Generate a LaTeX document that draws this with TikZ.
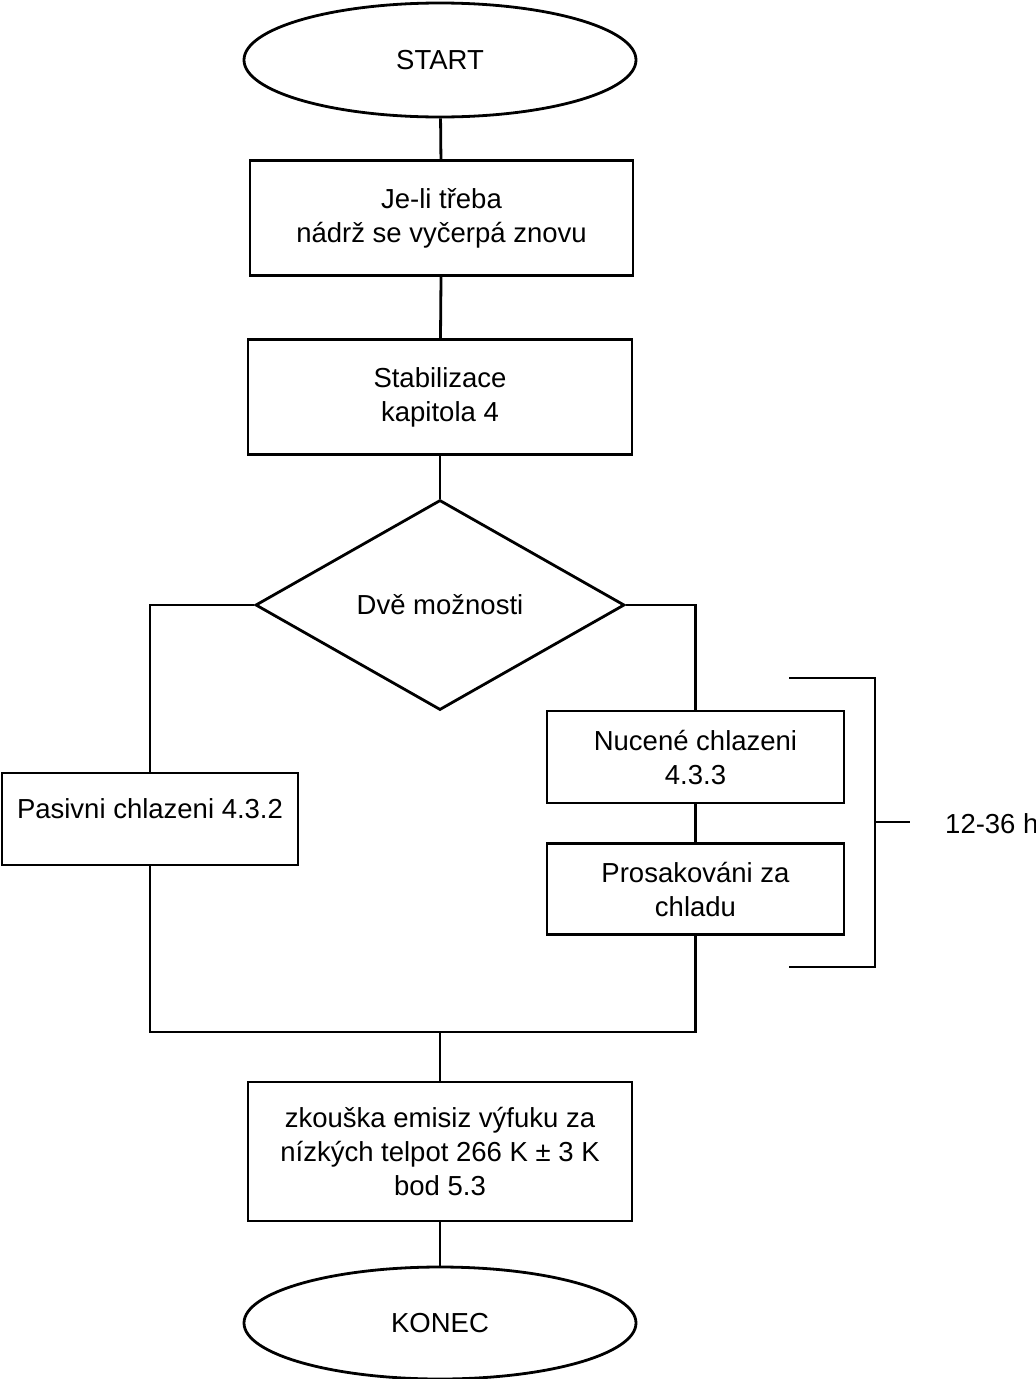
\documentclass[tikz,border=0pt]{standalone}
\usepackage{fontspec}
\setmainfont{Liberation Sans}
\usetikzlibrary{shapes.geometric}
\begin{document}
\begin{tikzpicture}[x=1pt,y=-1pt,
  every node/.style={font=\fontsize{27.5}{34}\selectfont, inner sep=0pt},
  box/.style={draw, line width=2.8pt, rectangle, align=center},
  term/.style={draw, line width=2.8pt, ellipse, minimum width=392pt, minimum height=114pt},
  dec/.style={draw, line width=2.8pt, diamond, aspect=1.76, minimum width=369pt, minimum height=210pt},
  conn/.style={line width=2.8pt}]
\useasboundingbox (0,0) rectangle (1036,1379);
\node[term] (start) at (440,60) {START};
\node[box, minimum width=383pt, minimum height=115pt] (b1) at (441.5,218) {Je-li třeba\\nádrž se vyčerpá znovu};
\node[box, minimum width=384pt, minimum height=115pt] (b2) at (440,397) {Stabilizace\\kapitola 4};
\node[dec] (d) at (440,605) {Dvě možnosti};
\node[box, minimum width=296pt, minimum height=92pt, label={[yshift=10pt]center:Pasivni chlazeni 4.3.2}] (pas) at (150,819) {};
\node[box, minimum width=297pt, minimum height=92pt] (nuc) at (695.5,757) {Nucené chlazeni\\4.3.3};
\node[box, minimum width=297pt, minimum height=91pt] (pro) at (695.5,889) {Prosakováni za\\chladu};
\node[box, minimum width=384pt, minimum height=139pt] (b3) at (440,1151.5) {zkouška emisiz výfuku za\\nízkých telpot 266 K ± 3 K\\bod 5.3};
\node[term, minimum height=112pt] (konec) at (440,1323) {KONEC};
\coordinate (merge) at (440,1032);
\coordinate (bt1) at (789,678);
\coordinate (bt2) at (875,678);
\coordinate (bb2) at (875,967);
\coordinate (bb1) at (789,967);
\coordinate (bm) at (875,822);
\coordinate (tick) at (910,822);
\node[anchor=west] (hrs) at (945,824) {12-36 h};
\draw[conn] (start) -- (b1);
\draw[conn] (b1) -- (b2);
\draw[conn] (b2) -- (d.north);
\draw[conn] (d.west) -| (pas.north);
\draw[conn] (d.east) -| (nuc.north);
\draw[conn] (nuc) -- (pro);
\draw[conn] (pas.south) |- (merge) -| (pro.south);
\draw[conn] (merge) -- (b3);
\draw[conn] (b3) -- (konec);
\draw[conn] (bt1) -- (bt2) -- (bb2) -- (bb1);
\draw[conn] (bm) -- (tick);
\end{tikzpicture}
\end{document}
